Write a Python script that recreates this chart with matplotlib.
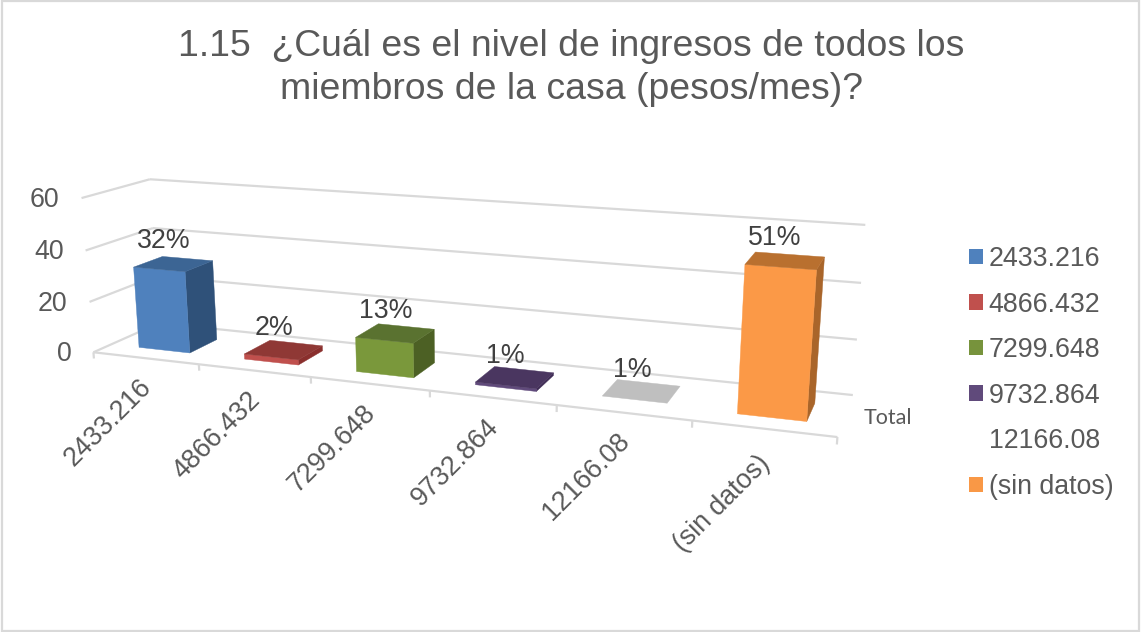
import numpy as np
import matplotlib
matplotlib.use("Agg")
import matplotlib.pyplot as plt
from matplotlib.patches import Polygon, Patch, Rectangle

# ---- data ----
categories = ["2433.216", "4866.432", "7299.648", "9732.864", "12166.08", "(sin datos)"]
percent = [32, 2, 13, 1, 1, 51]
y_ticks = [0, 20, 40, 60]
series_label = "Total"
title = "1.15  ¿Cuál es el nivel de ingresos de todos los\nmiembros de la casa (pesos/mes)?"

front_colors = ["#4f81bd", "#c0504d", "#7a983b", "#604a7b", "#ffffff", "#fb9947"]
top_colors = ["#3c6594", "#8f3835", "#5a7230", "#4a3660", "#bfbfbf", "#b9702f"]
side_colors = ["#2f5179", "#8a2f2d", "#4c6024", "#3f2c55", "#ffffff", "#a9652a"]
legend_colors = ["#4f81bd", "#c0504d", "#77933c", "#604a7b", "#ffffff", "#f99846"]

TXT = "#595959"
GRID = "#d9d9d9"
FS = 19.3
plt.rcParams["font.family"] = ["Liberation Sans", "DejaVu Sans"]

# ---- camera: perspective scale (category, value, depth) -> figure pixels ----
# calibrated from the reference's frame corners
cam_world = np.array([
    (0, 0, 0), (6, 0, 0), (0, 0, 1), (6, 0, 1), (0, 60, 0), (0, 60, 1), (6, 60, 1),
    (0, 20, 0), (0, 40, 0), (6, 20, 1), (6, 40, 1),
    (1, 0, 0), (2, 0, 0), (3, 0, 0), (4, 0, 0), (5, 0, 0)], float)
cam_pix = np.array([
    (95, 353), (838, 436), (157, 322), (853, 396), (79, 198), (152, 179), (865, 225),
    (90, 303), (86, 250), (857, 340), (861, 283),
    (199, 365), (311, 377), (429, 390), (557, 405), (692, 420)], float)


def fit_camera(world, pix):
    rows, rhs = [], []
    for (X, Y, Z), (u, v) in zip(world, pix):
        rows.append([X, Y, Z, 1, 0, 0, 0, 0, -u * X, -u * Y, -u * Z]); rhs.append(u)
        rows.append([0, 0, 0, 0, X, Y, Z, 1, -v * X, -v * Y, -v * Z]); rhs.append(v)
    sol = np.linalg.lstsq(np.array(rows), np.array(rhs), rcond=None)[0]
    return np.append(sol, 1).reshape(3, 4)


CAM = fit_camera(cam_world, cam_pix)


def proj(x, y, z):
    h = CAM @ np.array([x, y, z, 1.0])
    return h[0] / h[2], h[1] / h[2]


fig = plt.figure(figsize=(11.41, 6.32), dpi=100, facecolor="white")
ax = fig.add_axes([0, 0, 1, 1])
ax.set_xlim(0, 1141)
ax.set_ylim(632, 0)
ax.axis("off")

# outer border
ax.add_patch(Rectangle((1.5, 1), 1137.5, 629.5, fc="none", ec=GRID, lw=1.6))

n = len(categories)
LW = 1.6


def line3d(a, b, **kw):
    pa, pb = proj(*a), proj(*b)
    ax.plot([pa[0], pb[0]], [pa[1], pb[1]], color=GRID, lw=LW, solid_capstyle="butt", **kw)


# walls
for v in y_ticks:
    line3d((0, v, 1), (n, v, 1), zorder=1)
    line3d((0, v, 0), (0, v, 1), zorder=1)
    px, py = proj(0, v, 0)
    ax.text(px - 22, py + 2, str(v), ha="right", va="center", fontsize=FS, color=TXT)

# floor front edge and ticks
line3d((0, 0, 0), (n, 0, 0), zorder=1)
for i in range(n + 1):
    line3d((i, 0, 0), (i, -2.5, 0), zorder=1)

# bars
BX0, BX1, BZ0, BZ1 = 0.272, 0.76, 0.26, 0.70
label_dy = [16, 16, 16, 16, 16, 22]
for i, v in enumerate(percent):
    x0, x1 = i + BX0, i + BX1
    front = [proj(x0, 0, BZ0), proj(x1, 0, BZ0), proj(x1, v, BZ0), proj(x0, v, BZ0)]
    side = [proj(x1, 0, BZ0), proj(x1, 0, BZ1), proj(x1, v, BZ1), proj(x1, v, BZ0)]
    top = [proj(x0, v, BZ0), proj(x1, v, BZ0), proj(x1, v, BZ1), proj(x0, v, BZ1)]
    for pts, c in ((side, side_colors[i]), (front, front_colors[i]), (top, top_colors[i])):
        ax.add_patch(Polygon(pts, closed=True, fc=c, ec=c, lw=0.3, zorder=3 + i))
    lx, ly = proj(x0, v, BZ0)
    ax.text(lx + 30, ly - 26, f"{v}%", ha="center", va="center", fontsize=FS, color="#404040", zorder=20)
    # category label
    tx, ty = proj(i + 0.5, 0, 0)
    ax.text(tx - 7, ty + label_dy[i], categories[i], rotation=45, rotation_mode="anchor",
            ha="right", va="top", fontsize=FS, color=TXT)

# series axis label
sx, sy = proj(n, 0, 0.5)
ax.text(sx + 18, sy + 3, series_label, ha="left", va="center", fontsize=15.5,
        color=TXT, family=["Lato", "DejaVu Sans"])

# legend
handles = [Patch(fc=c, ec="none", label=l) for c, l in zip(legend_colors, categories)]
ax.legend(handles=handles, loc="upper left", bbox_to_anchor=(969, 246), bbox_transform=ax.transData,
          frameon=False, fontsize=FS, handlelength=0.52, handleheight=0.52, handletextpad=0.22,
          labelspacing=0.73, labelcolor=TXT, borderpad=0, borderaxespad=0)

# title
ax.text(571, 68, title, ha="center", va="center", fontsize=26.9, color=TXT, linespacing=1.33)

fig.savefig("out.png", dpi=100, facecolor="white")
